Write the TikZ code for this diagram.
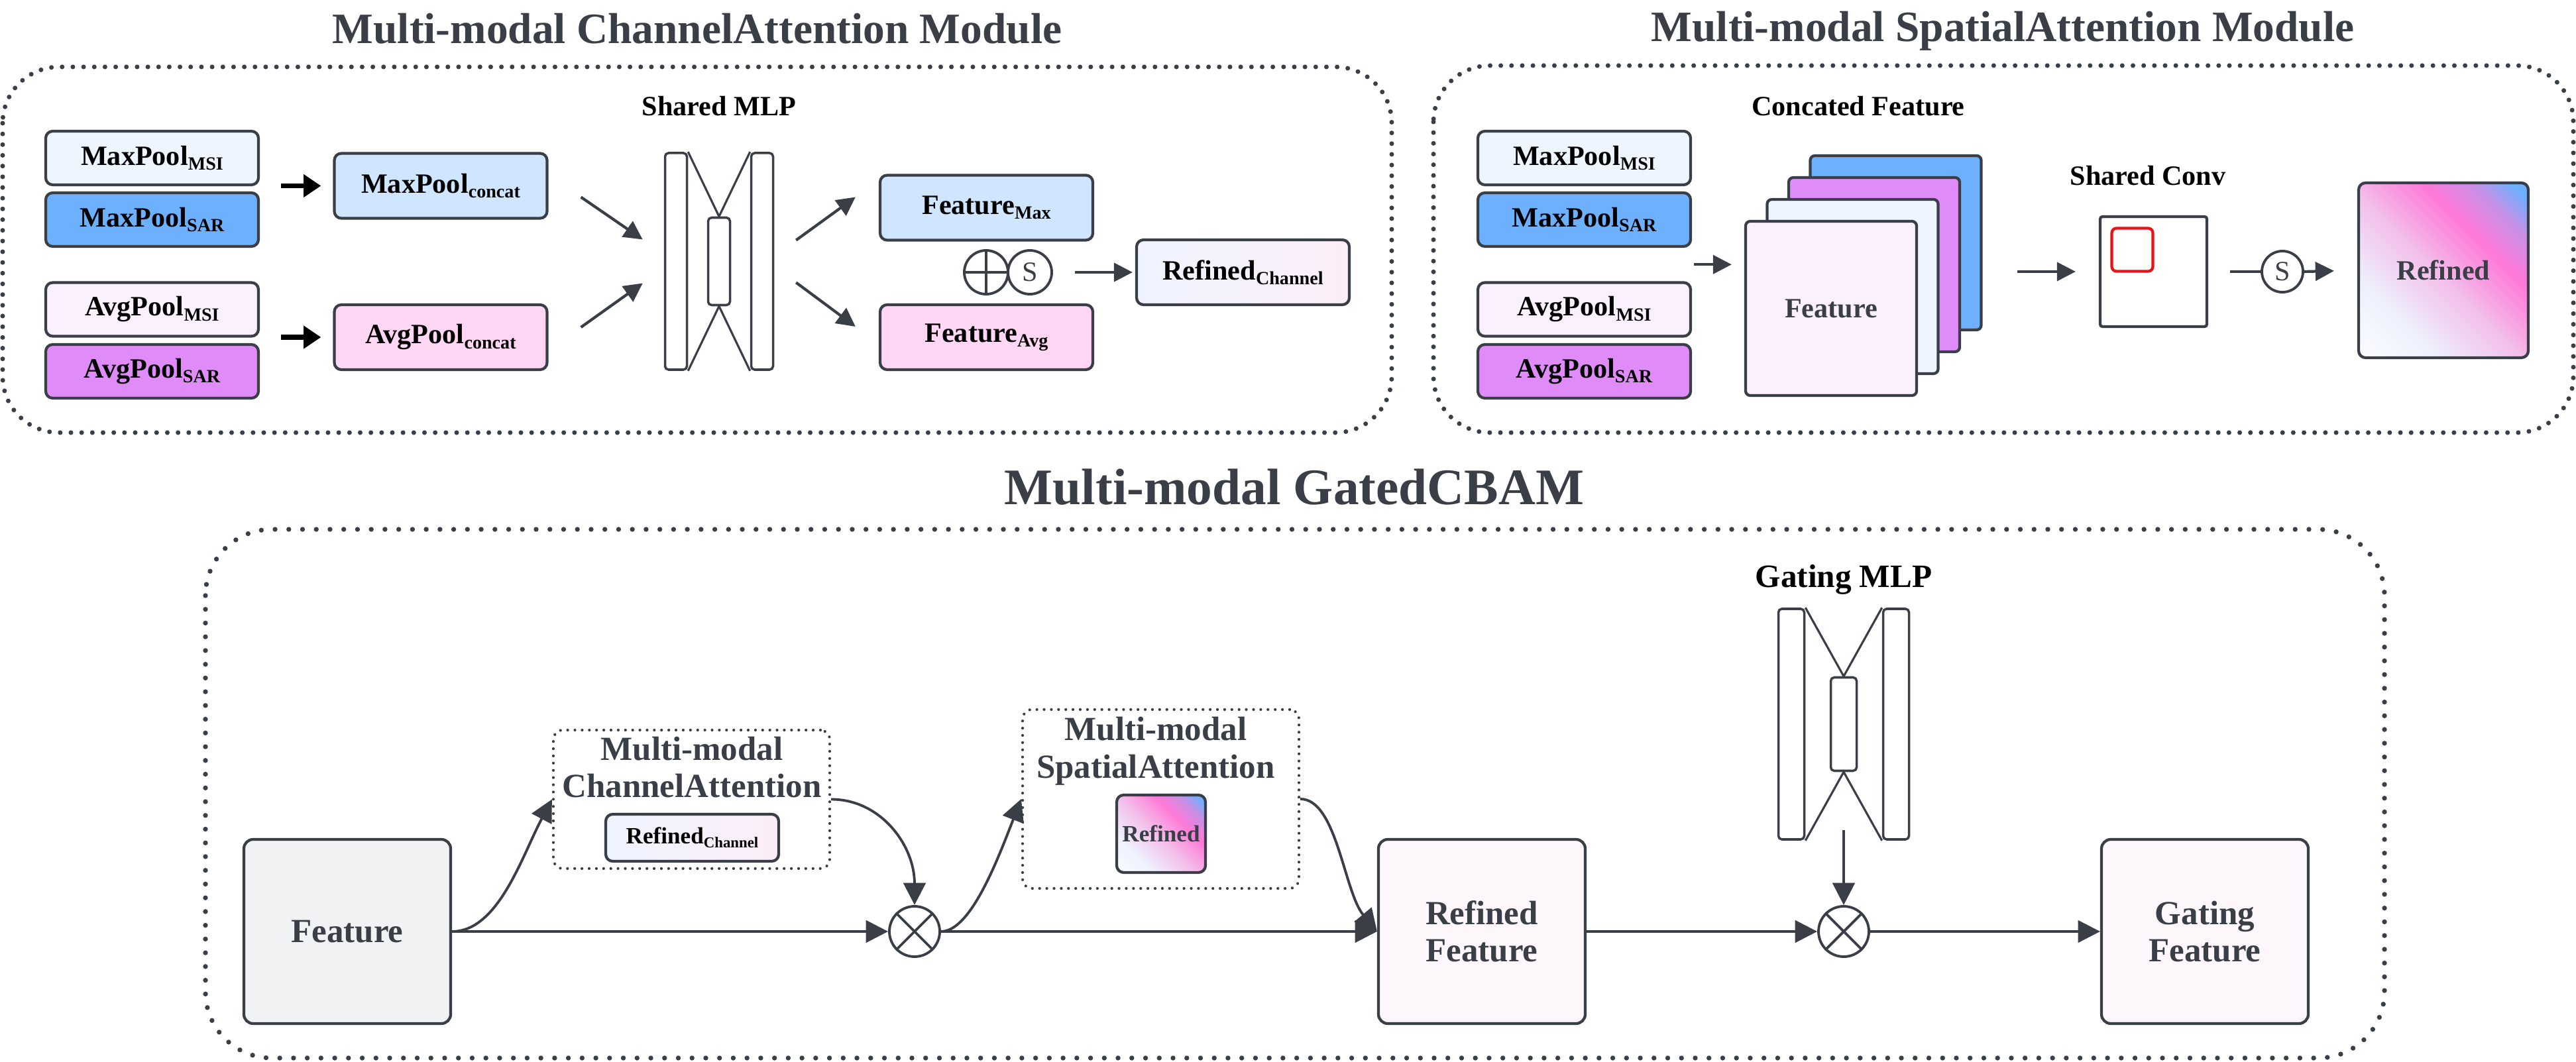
\documentclass[tikz,border=0pt]{standalone}
\usepackage{fontspec}
\setmainfont{Liberation Serif}
\usetikzlibrary{calc, positioning, shapes.geometric, arrows.meta}

\definecolor{ink}{HTML}{3A3F47}
\definecolor{msiblue}{HTML}{EEF5FF}
\definecolor{sarblue}{HTML}{6CB0FE}
\definecolor{msipink}{HTML}{FBF0FD}
\definecolor{sarpurple}{HTML}{DF8CF9}
\definecolor{catblue}{HTML}{D0E5FF}
\definecolor{catpink}{HTML}{FFD6F4}
\definecolor{featgray}{HTML}{F1F2F4}
\definecolor{featpink}{HTML}{FDF6FB}
\definecolor{convred}{HTML}{E3151B}
\definecolor{rca}{HTML}{EEF4FF}
\definecolor{rcb}{HTML}{FCEDF8}
\definecolor{rfa}{HTML}{FAFCFF}
\definecolor{rfb}{HTML}{EEF2FD}
\definecolor{rfc}{HTML}{F3BFEA}
\definecolor{rfd}{HTML}{FF78D8}
\definecolor{rfe}{HTML}{C690E6}
\pgfdeclarehorizontalshading{refshade}{100bp}{color(0bp)=(white); color(15bp)=(rfa); color(30bp)=(rfb); color(48bp)=(rfc); color(64bp)=(rfd); color(74bp)=(rfe); color(82bp)=(sarblue); color(100bp)=(sarblue)}

\newcommand\sub[2][8]{\raisebox{-0.17em}{\fontsize{#1}{#1}\selectfont #2}}
% four pooled inputs, x centre and name prefix
\newcommand\poolquad[2]{\node[pool, fill=msiblue] (#2mm) at (#1,2.385) {MaxPool\sub{MSI}};
\node[pool, fill=sarblue] (#2ms) at (#1,3.315) {MaxPool\sub{SAR}};
\node[pool, fill=msipink] (#2am) at (#1,4.67) {AvgPool\sub{MSI}};
\node[pool, fill=sarpurple] (#2as) at (#1,5.605) {AvgPool\sub{SAR}};}
% name, x, y, bar height, middle height, bar offset, bar width
\newcommand\mlpicon[7]{\node[mlpbar, minimum width=#7, minimum height=#4] (#1-l) at ({#2-#6},#3) {};
\node[mlpbar, minimum width=#7, minimum height=#4] (#1-r) at ({#2+#6},#3) {};
\node[mlpbar, minimum width=#7, minimum height=#5] (#1-m) at (#2,#3) {};
\draw[mlpline] (#1-l.north east) -- (#1-m.north) (#1-r.north west) -- (#1-m.north);
\draw[mlpline] (#1-l.south east) -- (#1-m.south) (#1-r.south west) -- (#1-m.south);}
\newcommand\otimesnode[3]{\node[opcirc, minimum size=0.76cm] (#1) at (#2,#3) {};
\draw[opline] (#1.north west) -- (#1.south east) (#1.north east) -- (#1.south west);}

\tikzset{
  box/.style={draw=ink, line width=1.2pt, rounded corners=3pt, inner sep=0pt, font=\fontsize{12}{14}\selectfont\bfseries},
  pool/.style={box, minimum width=3.21cm, minimum height=0.81cm},
  wide/.style={box, minimum width=3.21cm, minimum height=0.98cm},
  card/.style={box, rounded corners=2pt, minimum width=2.58cm, minimum height=2.63cm, text=ink},
  bigbox/.style={box, rounded corners=4pt, minimum width=3.12cm, minimum height=2.78cm, align=center, text=ink, font=\fontsize{14.5}{15.8}\selectfont\bfseries},
  panel/.style={draw=ink, line width=2pt, line cap=round, dash pattern=on 0pt off 4.6pt, rounded corners=0.85cm},
  bigpanel/.style={panel, line width=2.1pt, dash pattern=on 0pt off 5.9pt, rounded corners=1cm},
  subpanel/.style={draw=ink, line width=1.2pt, line cap=round, dash pattern=on 0pt off 3.1pt, rounded corners=4pt, inner sep=0pt},
  ttl/.style={anchor=base, text=ink, font=\fontsize{18.6}{22}\selectfont\bfseries},
  lbl/.style={anchor=base, font=\fontsize{12}{14}\selectfont\bfseries},
  midtxt/.style={anchor=base, text=ink, font=\fontsize{14.5}{17}\selectfont\bfseries},
  mlpbar/.style={draw=ink, line width=1pt, rounded corners=1.5pt, inner sep=0pt, fill=white},
  mlpline/.style={draw=ink, line width=0.9pt},
  opcirc/.style={circle, draw=ink, line width=1.1pt, inner sep=0pt, minimum size=0.66cm, fill=white, text=ink, font=\fontsize{12}{12}\selectfont},
  opline/.style={draw=ink, line width=1.1pt},
  arr/.style={draw=ink, line width=1.2pt, -{Triangle[length=8pt,width=8pt]}},
  blkarr/.style={draw=black, line width=2pt, -{Triangle[length=7.5pt,width=9.5pt]}},
  flow/.style={draw=ink, line width=1.1pt, -{Triangle[length=9.5pt,width=9.5pt]}},
  refgrad/.style={shade, shading=refshade, shading angle=45},
  chgrad/.style={left color=rca, right color=rcb},
}

\begin{document}
\begin{tikzpicture}[x=1cm, y=-1cm]
\useasboundingbox (0,0) rectangle (38.87,16.03);

% channel attention module
\draw[panel] (0.04,1.01) rectangle (21.00,6.53);
\node[ttl] (catitle) at (10.52,0.66) {Multi-modal ChannelAttention Module};
\poolquad{2.295}{c}
\node[wide, fill=catblue] (mpcat) at (6.65,2.805) {MaxPool\sub{concat}};
\node[wide, fill=catpink] (apcat) at (6.65,5.09) {AvgPool\sub{concat}};
\draw[blkarr, shorten <=0.32cm, shorten >=0.18cm] (mpcat.west -| cms.east) -- (mpcat.west);
\draw[blkarr, shorten <=0.32cm, shorten >=0.18cm] (apcat.west -| cas.east) -- (apcat.west);
\node[lbl] (mlptxt) at (10.85,1.75) {Shared MLP};
\mlpicon{mlp}{10.85}{3.945}{3.27cm}{1.32cm}{0.65}{0.33cm}
\draw[arr] ($(mpcat.east)+(0.49,0.17)$) -- ($(mlp-l.west)+(-0.32,-0.33)$);
\draw[arr] ($(apcat.east)+(0.49,-0.15)$) -- ($(mlp-l.west)+(-0.32,0.33)$);
\node[wide, fill=catblue] (fmax) at (14.885,3.135) {Feature\sub{Max}};
\node[wide, fill=catpink] (favg) at (14.885,5.09) {Feature\sub{Avg}};
\draw[arr] ($(mlp-r.east)+(0.33,-0.32)$) -- ($(fmax.west)+(-0.35,-0.16)$);
\draw[arr] ($(mlp-r.east)+(0.33,0.32)$) -- ($(favg.west)+(-0.35,-0.16)$);
\node[opcirc] (op) at (14.88,4.11) {};
\draw[opline] (op.north) -- (op.south) (op.west) -- (op.east);
\node[opcirc] (sg) at (15.54,4.11) {S};
\node[wide, chgrad] (rchan) at (18.755,4.11) {Refined\sub{Channel}};
\draw[arr, shorten <=0.33cm, shorten >=0.04cm] (sg.east) -- (rchan.west);

% spatial attention module
\draw[panel] (21.63,0.99) rectangle (38.83,6.53);
\node[ttl] (satitle) at (30.22,0.63) {Multi-modal SpatialAttention Module};
\poolquad{23.905}{s}
\node[lbl] (cattxt) at (28.04,1.75) {Concated Feature};
\foreach \k/\c in {3/sarblue, 2/sarpurple, 1/msiblue, 0/msipink}
  \node[card, fill=\c] (stk\k) at ({27.63+0.325*\k},{4.655-0.33*\k}) {};
\node[text=ink, font=\fontsize{12}{14}\selectfont\bfseries] (stklbl) at (stk0) {Feature};
\coordinate (sjoin) at ($(sms.south east)!0.5!(sam.north east)$);
\draw[arr, shorten <=0.03cm, shorten >=0.19cm] (sjoin) -- (sjoin -| stk0.west);
\node[lbl] (convtxt) at (32.41,2.80) {Shared Conv};
\node[box, rounded corners=1pt, minimum width=1.61cm, minimum height=1.66cm, fill=white] (conv) at (32.495,4.10) {};
\node[draw=convred, line width=1.2pt, rounded corners=2pt, minimum width=0.62cm, minimum height=0.65cm, inner sep=0pt] (kern) at (32.175,3.77) {};
\draw[arr, shorten <=0.52cm, shorten >=0.35cm] (stk3.east |- conv.west) -- (conv.west);
\node[opcirc, minimum size=0.62cm] (sg2) at (34.44,4.10) {S};
\draw[opline, shorten <=0.33cm] (conv.east) -- (sg2.west);
\node[box, refgrad, minimum width=2.56cm, minimum height=2.64cm, text=ink] (refd) at (36.87,4.08) {Refined};
\draw[arr, shorten >=0.35cm] (sg2.east) -- (refd.west);

% gated CBAM
\draw[bigpanel] (3.10,7.99) rectangle (35.98,15.97);
\node[ttl, font=\fontsize{22}{26}\selectfont\bfseries] (gtitle) at (19.53,7.62) {Multi-modal GatedCBAM};
\node[bigbox, fill=featgray] (feat0) at (5.24,14.06) {Feature};
\node[subpanel, minimum width=4.17cm, minimum height=2.09cm] (cabox) at (10.435,12.065) {};
\node[midtxt] (catxt1) at (10.44,11.48) {Multi-modal};
\node[midtxt] (catxt2) at (10.44,12.04) {ChannelAttention};
\node[box, chgrad, minimum width=2.61cm, minimum height=0.71cm, font=\fontsize{10}{12}\selectfont\bfseries] (rc2) at (10.445,12.645) {Refined\sub[6.5]{Channel}};
\otimesnode{ot1}{13.80}{14.06}
\node[subpanel, minimum width=4.17cm, minimum height=2.70cm] (sabox) at (17.515,12.06) {};
\node[midtxt] (satxt1) at (17.44,11.18) {Multi-modal};
\node[midtxt] (satxt2) at (17.44,11.74) {SpatialAttention};
\node[box, refgrad, minimum width=1.34cm, minimum height=1.17cm, text=ink, font=\fontsize{10}{12}\selectfont\bfseries] (rf2) at (17.52,12.585) {Refined};
\node[bigbox, fill=featpink] (rfeat) at (22.36,14.06) {Refined\\Feature};
\node[lbl, font=\fontsize{14}{16}\selectfont\bfseries] (gmlptxt) at (27.82,8.87) {Gating MLP};
\mlpicon{gmlp}{27.82}{10.93}{3.48cm}{1.41cm}{0.79}{0.39cm}
\otimesnode{ot2}{27.82}{14.06}
\node[bigbox, fill=featpink] (gfeat) at (33.27,14.06) {Gating\\Feature};

\draw[flow] (feat0.east) -- (ot1.west);
\draw[flow] (feat0.east) .. controls +(0.7,0) and +(-0.45,0.85) .. (cabox.west);
\draw[flow] (cabox.east) .. controls +(0.75,0) and +(0,-0.9) .. (ot1.north);
\draw[flow] (ot1.east) .. controls +(0.45,0) and +(-0.35,0.9) .. (sabox.west);
\draw[flow] (sabox.east) .. controls +(0.55,0) and +(-0.5,-0.6) .. (rfeat.west);
\draw[flow] (ot1.east) -- (rfeat.west);
\draw[flow] (rfeat.east) -- (ot2.west);
\draw[flow] (ot2.east) -- (gfeat.west);
\draw[flow, shorten <=0.88cm] (gmlp-m.south) -- (ot2.north);
\end{tikzpicture}
\end{document}
